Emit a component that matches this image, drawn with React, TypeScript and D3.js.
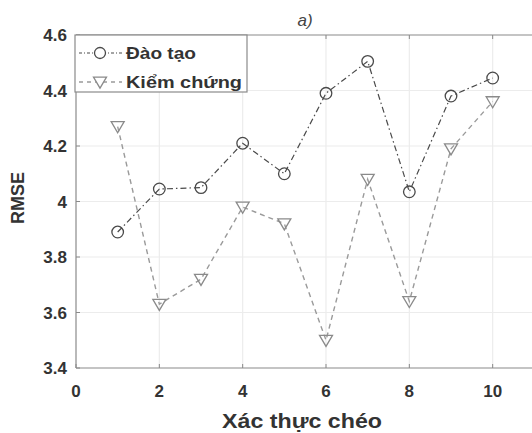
import * as d3 from 'd3'

const folds = [1, 2, 3, 4, 5, 6, 7, 8, 9, 10]
const trainRmse = [3.89, 4.045, 4.05, 4.21, 4.1, 4.39, 4.505, 4.035, 4.38, 4.445]
const validRmse = [4.27, 3.63, 3.72, 3.98, 3.92, 3.5, 4.08, 3.64, 4.19, 4.36]
const xTicks = [0, 2, 4, 6, 8, 10, 12]
const xTickLabels = [0, 2, 4, 6, 8, 10]
const yTicks = [3.4, 3.6, 3.8, 4, 4.2, 4.4, 4.6]
const seriesNames = ['Đào tạo', 'Kiểm chứng']

const WIDTH = 532
const HEIGHT = 433
const PLOT = { left: 76, right: 576, top: 35, bottom: 368 }
const FONT = '"Liberation Sans", Arial, sans-serif'

function trianglePath(cx: number, cy: number, s: number) {
  return `M${cx - s},${cy - s * 0.75}L${cx + s},${cy - s * 0.75}L${cx},${cy + s * 0.95}Z`
}

export default function App() {
  const x = d3.scaleLinear().domain([0, 12]).range([PLOT.left, PLOT.right])
  const y = d3.scaleLinear().domain([3.4, 4.6]).range([PLOT.bottom, PLOT.top])

  const line = d3
    .line<number>()
    .x((_, i) => x(folds[i]))
    .y((d) => y(d))

  const legendX = 75
  const legendY = 35

  return (
    <svg
      width={WIDTH}
      height={HEIGHT}
      style={{ position: 'fixed', left: 0, top: 0, background: '#fff' }}
      fontFamily={FONT}
    >
      <rect width={WIDTH} height={HEIGHT} fill="#fff" />

      {/* grid */}
      {xTicks.slice(1).map((t) => (
        <line key={`gx${t}`} x1={x(t)} x2={x(t)} y1={PLOT.top} y2={PLOT.bottom} stroke="#ececec" strokeWidth={1.2} />
      ))}
      {yTicks.slice(1, -1).map((t) => (
        <line key={`gy${t}`} x1={PLOT.left} x2={PLOT.right} y1={y(t)} y2={y(t)} stroke="#ececec" strokeWidth={1.2} />
      ))}

      {/* axes box */}
      <line x1={PLOT.left} x2={PLOT.right} y1={PLOT.top} y2={PLOT.top} stroke="#8a8a8a" strokeWidth={1.2} />
      <line x1={PLOT.left} x2={PLOT.right} y1={PLOT.bottom} y2={PLOT.bottom} stroke="#8a8a8a" strokeWidth={1.2} />
      <line x1={PLOT.left} x2={PLOT.left} y1={PLOT.top} y2={PLOT.bottom} stroke="#8a8a8a" strokeWidth={1.2} />
      {xTicks.map((t) => (
        <g key={`tx${t}`}>
          <line x1={x(t)} x2={x(t)} y1={PLOT.bottom} y2={PLOT.bottom - 4} stroke="#8a8a8a" />
          <line x1={x(t)} x2={x(t)} y1={PLOT.top} y2={PLOT.top + 4} stroke="#8a8a8a" />
        </g>
      ))}
      {yTicks.map((t) => (
        <line key={`ty${t}`} x1={PLOT.left} x2={PLOT.left + 4} y1={y(t)} y2={y(t)} stroke="#8a8a8a" />
      ))}

      {/* tick labels */}
      {xTickLabels.map((t) => (
        <text key={`lx${t}`} x={x(t)} y={PLOT.bottom + 29} textAnchor="middle" fontSize={17} fontWeight="bold" fill="#333">
          {t}
        </text>
      ))}
      {yTicks.map((t) => (
        <text key={`ly${t}`} x={PLOT.left - 9} y={y(t) + 6} textAnchor="end" fontSize={17} fontWeight="bold" fill="#333">
          {d3.format('~g')(t)}
        </text>
      ))}

      {/* axis titles */}
      <text x={302} y={428} textAnchor="middle" fontSize={20} fontWeight="bold" fill="#333" textLength={160} lengthAdjust="spacingAndGlyphs">
        Xác thực chéo
      </text>
      <text transform={`translate(24,198) rotate(-90)`} textAnchor="middle" fontSize={18} fontWeight="bold" fill="#333">
        RMSE
      </text>
      <text x={305} y={26} textAnchor="middle" fontSize={17} fontStyle="italic" fill="#444">
        a)
      </text>

      {/* series */}
      <path d={line(validRmse) ?? ''} fill="none" stroke="#9a9a9a" strokeWidth={1.4} strokeDasharray="5 4" />
      <path d={line(trainRmse) ?? ''} fill="none" stroke="#4a4a4a" strokeWidth={1.2} strokeDasharray="6 3 1.5 3" />
      {validRmse.map((v, i) => (
        <path key={`v${i}`} d={trianglePath(x(folds[i]), y(v), 6.5)} fill="none" stroke="#8a8a8a" strokeWidth={1.3} />
      ))}
      {trainRmse.map((v, i) => (
        <circle key={`c${i}`} cx={x(folds[i])} cy={y(v)} r={5.8} fill="none" stroke="#4a4a4a" strokeWidth={1.3} />
      ))}

      {/* legend */}
      <rect x={legendX} y={legendY} width={172} height={57} fill="#fff" stroke="#8a8a8a" strokeWidth={1.2} />
      <line x1={legendX + 4} x2={legendX + 47} y1={legendY + 18} y2={legendY + 18} stroke="#4a4a4a" strokeWidth={1.2} strokeDasharray="3 2 1 2" />
      <circle cx={legendX + 25} cy={legendY + 18} r={5.5} fill="#fff" stroke="#4a4a4a" strokeWidth={1.3} />
      <text x={legendX + 51} y={legendY + 24} fontSize={17} fontWeight="bold" fill="#333" textLength={70} lengthAdjust="spacingAndGlyphs">
        {seriesNames[0]}
      </text>
      <line x1={legendX + 4} x2={legendX + 47} y1={legendY + 47} y2={legendY + 47} stroke="#9a9a9a" strokeWidth={1.3} strokeDasharray="4 4" />
      <path d={trianglePath(legendX + 25, legendY + 47, 6.5)} fill="#fff" stroke="#8a8a8a" strokeWidth={1.3} />
      <text x={legendX + 51} y={legendY + 53} fontSize={17} fontWeight="bold" fill="#333" textLength={116} lengthAdjust="spacingAndGlyphs">
        {seriesNames[1]}
      </text>
    </svg>
  )
}
